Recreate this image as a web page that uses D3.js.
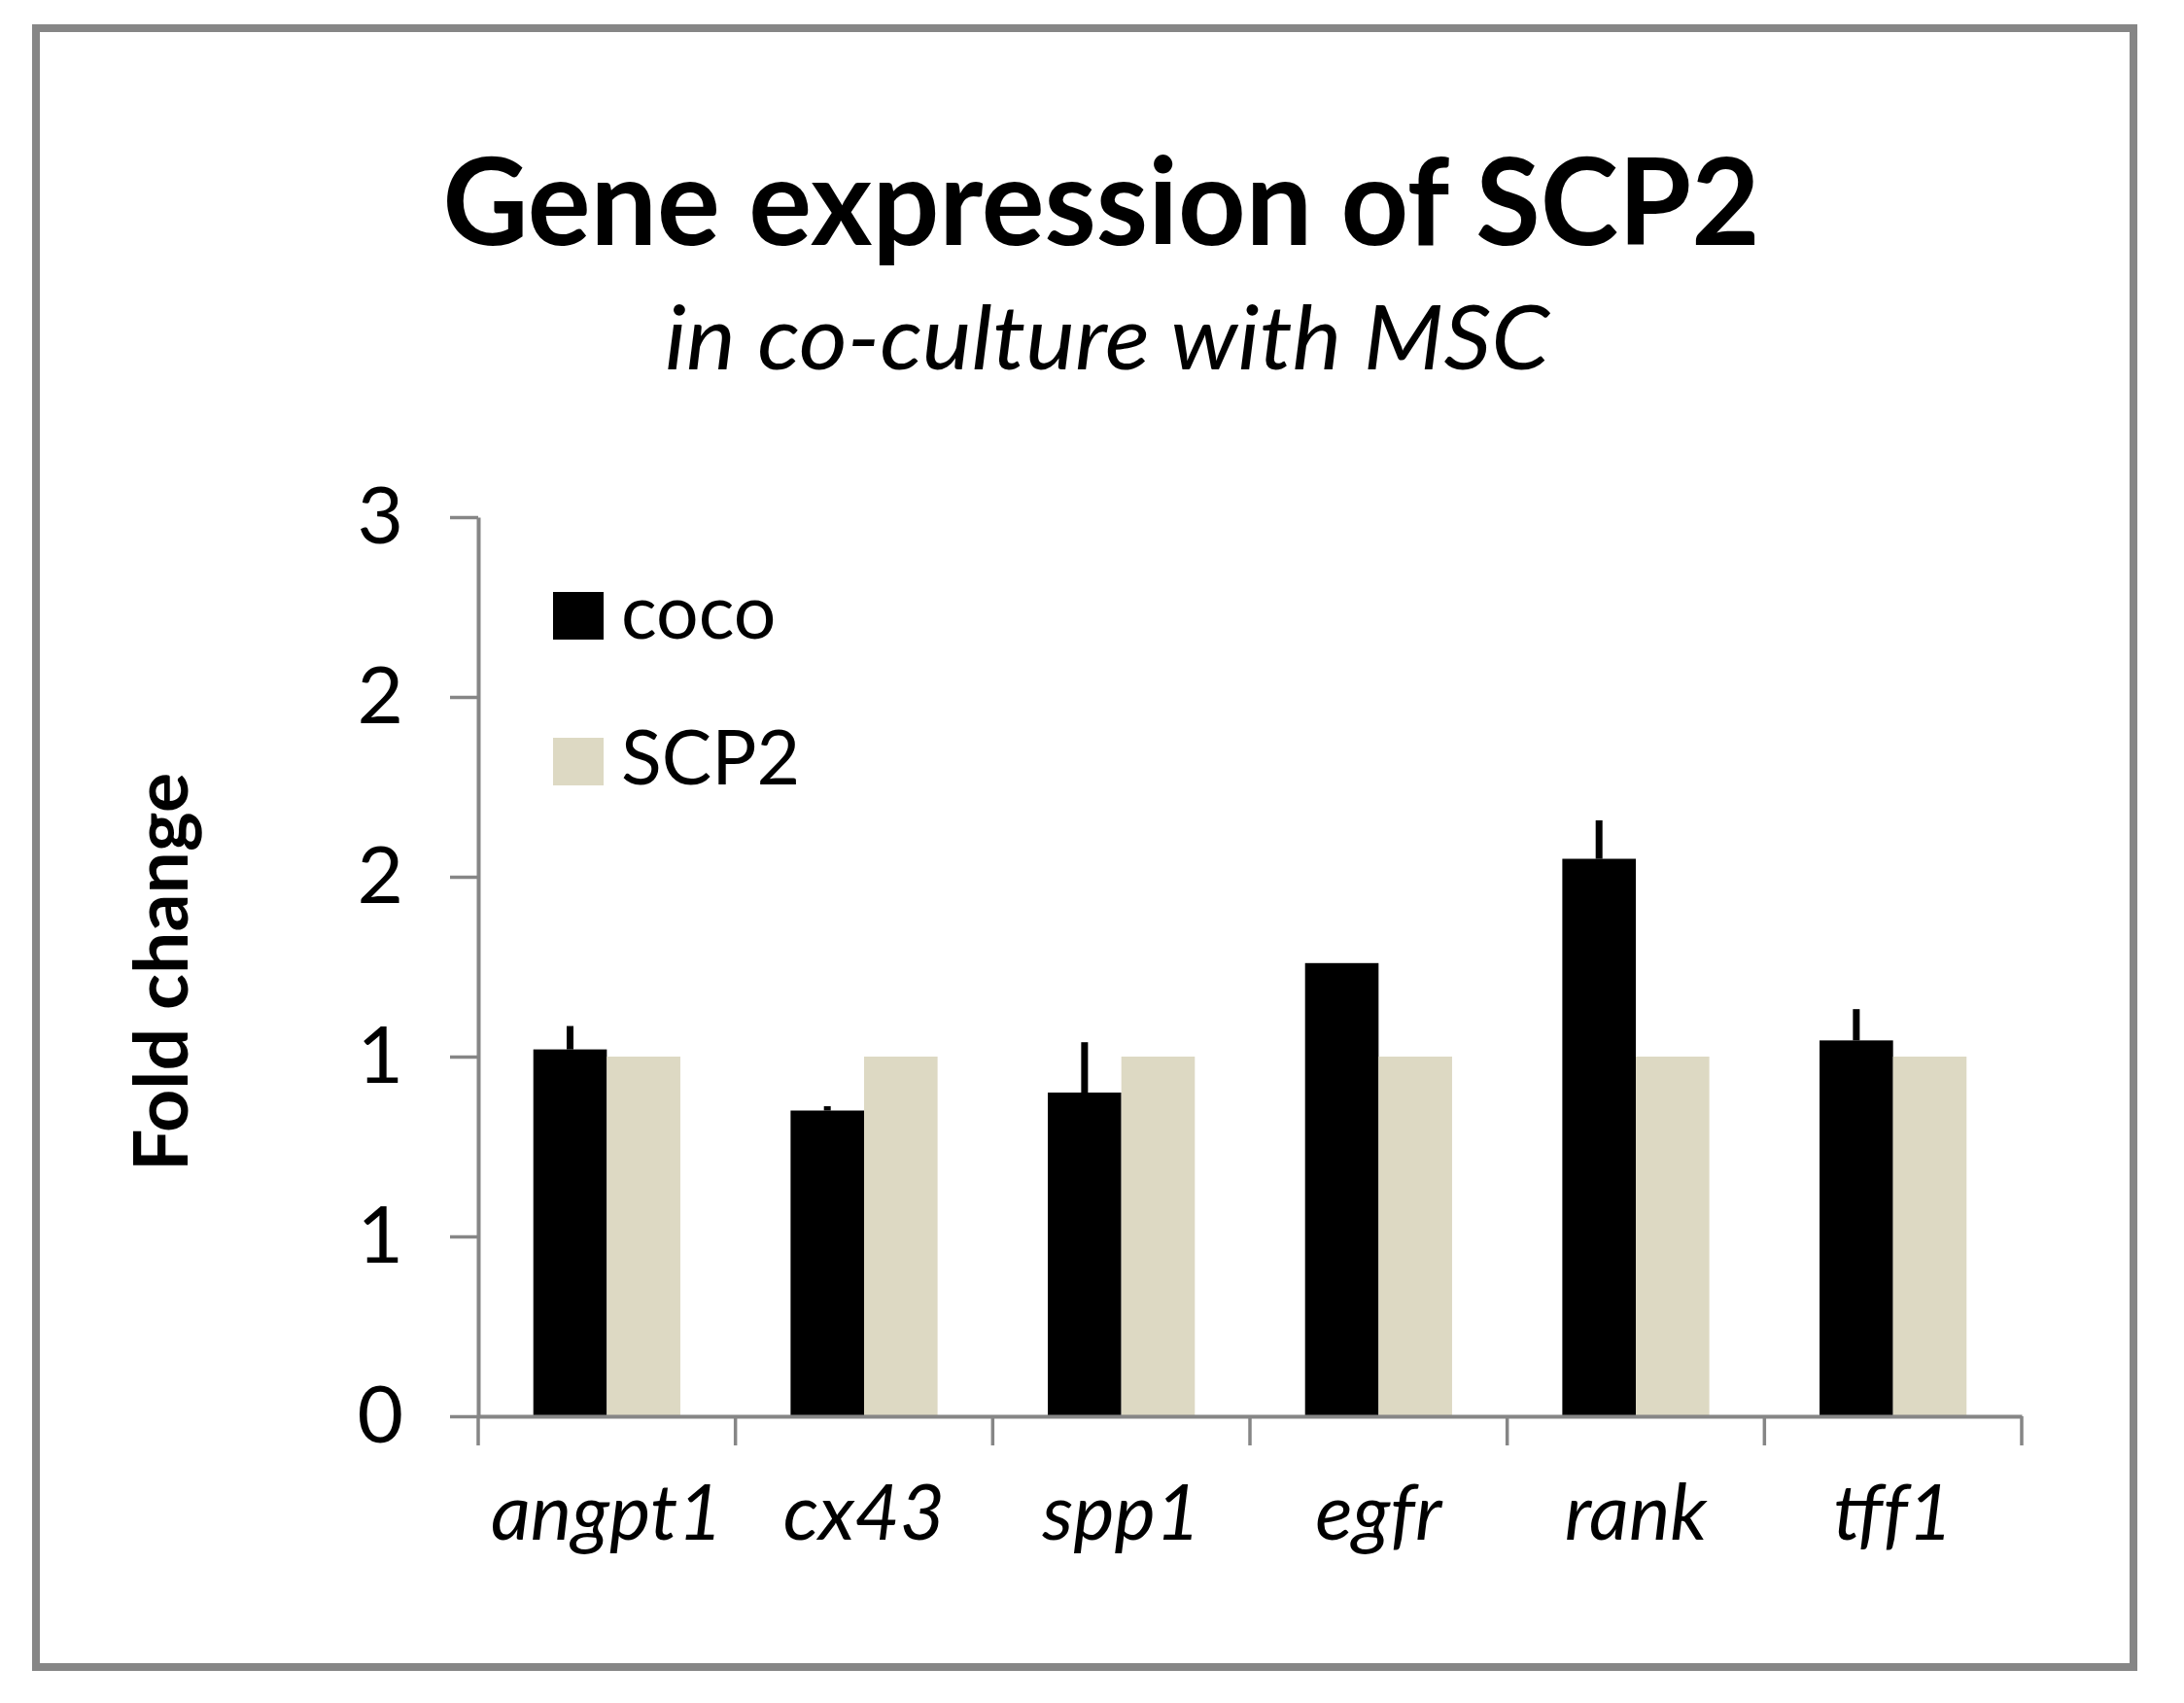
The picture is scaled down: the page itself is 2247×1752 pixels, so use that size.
<!DOCTYPE html>
<html>
<head>
<meta charset="utf-8">
<script src="https://cdn.jsdelivr.net/npm/d3@7"></script>
<style>
  body { margin: 0; background: #fff; }
  svg { display: block; }
</style>
</head>
<body>
<div id="chart"></div>
<script>
// Data
const categories = ["angpt1", "cx43", "spp1", "egfr", "rank", "tff1"];
const seriesNames = ["coco", "SCP2"];
const cocoValues = [1.02, 0.85, 0.90, 1.26, 1.55, 1.045];
const cocoErrors = [0.065, 0.012, 0.14, 0, 0.107, 0.087];
const scp2Values = [1, 1, 1, 1, 1, 1];
const yTickValues = [0, 0.5, 1, 1.5, 2, 2.5];
const yTickLabels = ["0", "1", "1", "2", "2", "3"];

const colors = {coco: "#000000", SCP2: "#ddd9c3"};
const axisGrey = "#868686";
const font = "Lato, 'Open Sans', sans-serif";

// Size
const W = 2247, H = 1752;
const plot = {left: 492, right: 2080, top: 532, bottom: 1457};

const svg = d3.select("#chart")
    .append("svg")
    .attr("width", W)
    .attr("height", H);

// frame
svg.append("rect")
    .attr("x", 37).attr("y", 29)
    .attr("width", 2158).attr("height", 1686)
    .attr("fill", "#fff")
    .attr("stroke", axisGrey)
    .attr("stroke-width", 8);

// Titles
svg.append("text")
    .attr("x", 1133).attr("y", 252)
    .attr("text-anchor", "middle")
    .attr("textLength", 1355)
    .attr("lengthAdjust", "spacingAndGlyphs")
    .style("font-family", font)
    .style("font-weight", "bold")
    .style("font-size", "124px")
    .text("Gene expression of SCP2");

svg.append("text")
    .attr("x", 1139).attr("y", 380)
    .attr("text-anchor", "middle")
    .attr("textLength", 910)
    .attr("lengthAdjust", "spacingAndGlyphs")
    .style("font-family", font)
    .style("font-style", "italic")
    .style("font-size", "92px")
    .text("in co-culture with MSC");

// Scales
const x = d3.scaleBand()
    .domain(categories)
    .range([plot.left, plot.right]);

const xSub = d3.scaleBand()
    .domain(seriesNames)
    .range([0, x.bandwidth()])
    .paddingOuter(0.75);

const y = d3.scaleLinear()
    .domain([0, 2.5])
    .range([plot.bottom, plot.top]);

const rows = categories.map((c, i) => ({
    cat: c,
    coco: cocoValues[i],
    err: cocoErrors[i],
    SCP2: scp2Values[i]
}));

// Bars
const groups = svg.selectAll(".grp")
    .data(rows)
    .enter()
    .append("g")
    .attr("class", "grp")
    .attr("transform", d => `translate(${x(d.cat)},0)`);

groups.selectAll("rect")
    .data(d => seriesNames.map(s => ({s: s, v: d[s]})))
    .enter()
    .append("rect")
    .attr("x", d => xSub(d.s))
    .attr("y", d => y(d.v))
    .attr("width", xSub.bandwidth())
    .attr("height", d => y(0) - y(d.v))
    .attr("fill", d => colors[d.s]);

// Error bars (upper only)
groups.filter(d => d.err > 0)
    .append("line")
    .attr("x1", xSub("coco") + xSub.bandwidth() / 2)
    .attr("x2", xSub("coco") + xSub.bandwidth() / 2)
    .attr("y1", d => y(d.coco))
    .attr("y2", d => y(d.coco + d.err))
    .attr("stroke", "#000")
    .attr("stroke-width", 7);

// Y axis
const yAxis = svg.append("g")
    .attr("transform", `translate(${plot.left},0)`)
    .call(d3.axisLeft(y)
        .tickValues(yTickValues)
        .tickFormat((d, i) => yTickLabels[i])
        .tickSize(29)
        .tickSizeOuter(0)
        .tickPadding(48));

yAxis.select(".domain").attr("stroke", axisGrey).attr("stroke-width", 4);
yAxis.selectAll(".tick line").attr("stroke", axisGrey).attr("stroke-width", 3.5);
yAxis.selectAll(".tick text")
    .style("font-family", font)
    .style("font-size", "82px")
    .attr("fill", "#000");

// X axis
const xAxis = svg.append("g")
    .attr("transform", `translate(0,${plot.bottom})`)
    .call(d3.axisBottom(x).tickSize(0).tickSizeOuter(0).tickPadding(70));

xAxis.select(".domain").attr("stroke", axisGrey).attr("stroke-width", 4);
xAxis.selectAll(".tick text")
    .style("font-family", font)
    .style("font-style", "italic")
    .style("font-size", "80px")
    .attr("fill", "#000");

// category separators
const seps = categories.map(c => x(c)).concat([x.range()[1]]);
xAxis.selectAll(".sep")
    .data(seps)
    .enter()
    .append("line")
    .attr("class", "sep")
    .attr("x1", d => d).attr("x2", d => d)
    .attr("y1", 0).attr("y2", 30)
    .attr("stroke", axisGrey)
    .attr("stroke-width", 3.5);

// Y axis title
svg.append("text")
    .attr("transform", "translate(193,1000) rotate(-90)")
    .attr("text-anchor", "middle")
    .style("font-family", font)
    .style("font-weight", "bold")
    .style("font-size", "77px")
    .text("Fold change");

// Legend
const legend = svg.selectAll(".leg")
    .data(seriesNames)
    .enter()
    .append("g")
    .attr("class", "leg")
    .attr("transform", (d, i) => `translate(569,${609 + i * 150})`);

legend.append("rect")
    .attr("width", 52).attr("height", 49)
    .attr("fill", d => colors[d]);

legend.append("text")
    .attr("x", 70).attr("y", 48)
    .style("font-family", font)
    .style("font-size", "77px")
    .text(d => d);
</script>
</body>
</html>
